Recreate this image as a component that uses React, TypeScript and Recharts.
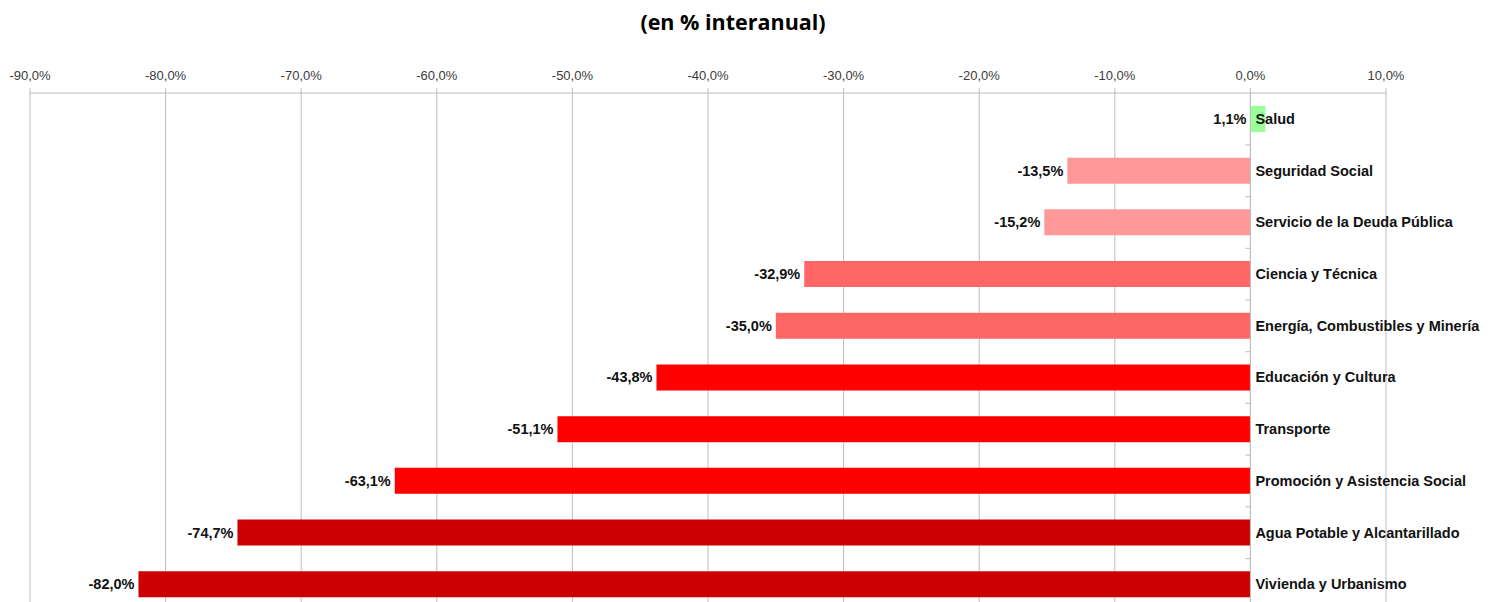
import {
  Bar,
  BarChart,
  CartesianGrid,
  Cell,
  LabelList,
  ReferenceLine,
  XAxis,
  YAxis,
} from "recharts";

const categories = [
  "Salud",
  "Seguridad Social",
  "Servicio de la Deuda Pública",
  "Ciencia y Técnica",
  "Energía, Combustibles y Minería",
  "Educación y Cultura",
  "Transporte",
  "Promoción y Asistencia Social",
  "Agua Potable y Alcantarillado",
  "Vivienda y Urbanismo",
];

const values = [1.1, -13.5, -15.2, -32.9, -35.0, -43.8, -51.1, -63.1, -74.7, -82.0];

const barColors = [
  "#99ff99",
  "#ff9999",
  "#ff9999",
  "#ff6666",
  "#ff6666",
  "#ff0000",
  "#ff0000",
  "#ff0000",
  "#cc0000",
  "#cc0000",
];

const xTicks = [-90, -80, -70, -60, -50, -40, -30, -20, -10, 0, 10];

const data = categories.map((name, i) => ({ name, value: values[i] }));

const fmt = (v: number) => v.toFixed(1).replace(".", ",") + "%";

const GRID = "#bdbdbd";
const FONT = "'Liberation Sans', Arial, sans-serif";

// base of the bar (where value 0 sits) and its left edge
const barEdges = (x: number, width: number, value: number) => {
  const left = Math.min(x, x + width);
  const right = Math.max(x, x + width);
  return { left, base: value < 0 ? right : left };
};

const ValueLabel = (props: any) => {
  const { x, y, width, height, index } = props;
  const v = values[index];
  const { left } = barEdges(Number(x), Number(width), v);
  return (
    <text
      x={left - 4}
      y={Number(y) + Number(height) / 2}
      textAnchor="end"
      dominantBaseline="central"
      fontFamily={FONT}
      fontWeight="bold"
      fontSize={14.5}
      fill="#111"
    >
      {fmt(v)}
    </text>
  );
};

const NameLabel = (props: any) => {
  const { x, y, width, height, index, value } = props;
  const { base } = barEdges(Number(x), Number(width), values[index]);
  const cy = Number(y) + Number(height) / 2;
  // barCategoryGap 25% -> bar is half the band
  const step = Number(height) * 2;
  return (
    <g>
      <line x1={base - 5} x2={base} y1={cy + step / 2} y2={cy + step / 2} stroke={GRID} />
      <text
        x={base + 5}
        y={cy}
        textAnchor="start"
        dominantBaseline="central"
        fontFamily={FONT}
        fontWeight="bold"
        fontSize={14.5}
        fill="#111"
      >
        {value}
      </text>
    </g>
  );
};

export default function App() {
  return (
    <div
      style={{
        position: "absolute",
        left: 0,
        top: 0,
        width: 1502,
        height: 602,
        overflow: "hidden",
        background: "#fff",
      }}
    >
      <div
        style={{
          position: "absolute",
          top: 7,
          left: 0,
          width: 1466,
          textAlign: "center",
          fontFamily: "'Open Sans', sans-serif",
          fontWeight: "bold",
          fontSize: 21.5,
          lineHeight: "30px",
          color: "#000",
        }}
      >
        (en % interanual)
      </div>
      <BarChart
        width={1502}
        height={610}
        data={data}
        layout="vertical"
        barCategoryGap="25%"
        margin={{ top: 63, right: 116, bottom: 0, left: 30 }}
      >
        <CartesianGrid horizontal={false} stroke={GRID} />
        <XAxis
          type="number"
          orientation="top"
          domain={[-90, 10]}
          ticks={xTicks}
          tickFormatter={fmt}
          height={30}
          tickSize={5}
          tickMargin={8}
          axisLine={{ stroke: GRID }}
          tickLine={{ stroke: GRID }}
          tick={{ fill: "#3a3a3a", fontSize: 13, fontFamily: FONT }}
          interval={0}
        />
        <YAxis type="category" dataKey="name" hide />
        <ReferenceLine x={0} stroke={GRID} />
        <Bar dataKey="value" isAnimationActive={false}>
          {data.map((d, i) => (
            <Cell key={d.name} fill={barColors[i]} />
          ))}
          <LabelList dataKey="value" content={ValueLabel} />
          <LabelList dataKey="name" content={NameLabel} />
        </Bar>
      </BarChart>
    </div>
  );
}
